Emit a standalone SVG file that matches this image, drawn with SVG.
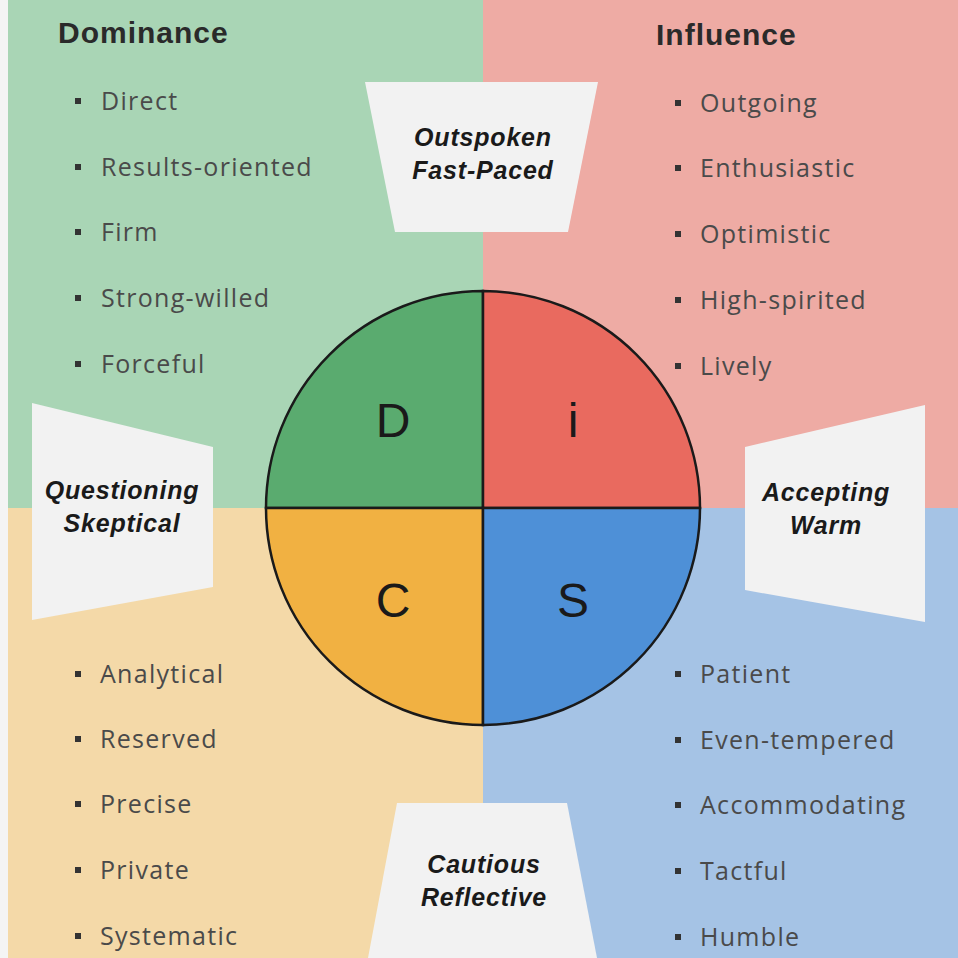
<svg xmlns="http://www.w3.org/2000/svg" width="958" height="958" viewBox="0 0 958 958">
<style>
.h{font:bold 30px "Liberation Sans",Arial,sans-serif;fill:#2a2a2a;letter-spacing:1px}
.t{font:25px "Open Sans","Liberation Sans",sans-serif;fill:#4a4a4a;letter-spacing:1.3px}
.b{fill:#333}
.c{fill:#f2f2f2}
.l{font:italic bold 25px "Liberation Sans",Arial,sans-serif;fill:#1a1a1a;text-anchor:middle;letter-spacing:0.8px}
.L{font:48px "Liberation Sans",Arial,sans-serif;fill:#1a1a1a;text-anchor:middle}
</style>
<g id="bg">
<rect x="0" y="0" width="483" height="508" fill="#a9d5b5"/>
<rect x="483" y="0" width="475" height="508" fill="#eeaba4"/>
<rect x="0" y="508" width="483" height="450" fill="#f4d9a8"/>
<rect x="483" y="508" width="475" height="450" fill="#a5c3e5"/>
<rect x="0" y="0" width="8" height="958" fill="#f4f4f4"/>
</g>
<g id="dominance">
<text class="h" x="58" y="43">Dominance</text>
<g class="t"><text x="101" y="110">Direct</text><text x="101" y="176">Results-oriented</text><text x="101" y="241">Firm</text><text x="101" y="307">Strong-willed</text><text x="101" y="373">Forceful</text></g>
<g class="b"><rect x="75" y="98" width="6" height="6"/><rect x="75" y="164" width="6" height="6"/><rect x="75" y="229" width="6" height="6"/><rect x="75" y="295" width="6" height="6"/><rect x="75" y="361" width="6" height="6"/></g>
</g>
<g id="influence">
<text class="h" x="656" y="45">Influence</text>
<g class="t"><text x="700" y="112">Outgoing</text><text x="700" y="177">Enthusiastic</text><text x="700" y="243">Optimistic</text><text x="700" y="309">High-spirited</text><text x="700" y="375">Lively</text></g>
<g class="b"><rect x="675" y="100" width="6" height="6"/><rect x="675" y="165" width="6" height="6"/><rect x="675" y="231" width="6" height="6"/><rect x="675" y="297" width="6" height="6"/><rect x="675" y="363" width="6" height="6"/></g>
</g>
<g id="conscientious">
<g class="t"><text x="100" y="683">Analytical</text><text x="100" y="748">Reserved</text><text x="100" y="813">Precise</text><text x="100" y="879">Private</text><text x="100" y="945">Systematic</text></g>
<g class="b"><rect x="75" y="671" width="6" height="6"/><rect x="75" y="736" width="6" height="6"/><rect x="75" y="801" width="6" height="6"/><rect x="75" y="867" width="6" height="6"/><rect x="75" y="933" width="6" height="6"/></g>
</g>
<g id="steadiness">
<g class="t"><text x="700" y="683">Patient</text><text x="700" y="749">Even-tempered</text><text x="700" y="814">Accommodating</text><text x="700" y="880">Tactful</text><text x="700" y="946">Humble</text></g>
<g class="b"><rect x="675" y="671" width="6" height="6"/><rect x="675" y="737" width="6" height="6"/><rect x="675" y="802" width="6" height="6"/><rect x="675" y="868" width="6" height="6"/><rect x="675" y="934" width="6" height="6"/></g>
</g>
<g id="top-label"><polygon class="c" points="365,82 598,82 568,232 395,232"/><text class="l" x="483" y="146">Outspoken</text><text class="l" x="483" y="179">Fast-Paced</text></g>
<g id="left-label"><polygon class="c" points="32,403 213,447 213,587 32,620"/><text class="l" x="122" y="499">Questioning</text><text class="l" x="122" y="532">Skeptical</text></g>
<g id="right-label"><polygon class="c" points="745,447 925,405 925,622 745,590"/><text class="l" x="826" y="501">Accepting</text><text class="l" x="826" y="534">Warm</text></g>
<g id="bottom-label"><polygon class="c" points="397,803 567,803 597,958 368,958"/><text class="l" x="484" y="873">Cautious</text><text class="l" x="484" y="906">Reflective</text></g>
<g id="circle" stroke="#1a1a1a" stroke-width="2.5">
<path d="M483,508 L266,508 A217,217 0 0 1 483,291 Z" fill="#5aab6f"/>
<path d="M483,508 L483,291 A217,217 0 0 1 700,508 Z" fill="#e96a5f"/>
<path d="M483,508 L483,725 A217,217 0 0 1 266,508 Z" fill="#f1b142"/>
<path d="M483,508 L700,508 A217,217 0 0 1 483,725 Z" fill="#4e90d7"/>
</g>
<g id="letters"><text class="L" x="393" y="437">D</text><text class="L" x="573" y="437">i</text><text class="L" x="393" y="617">C</text><text class="L" x="573" y="617">S</text></g>
</svg>
